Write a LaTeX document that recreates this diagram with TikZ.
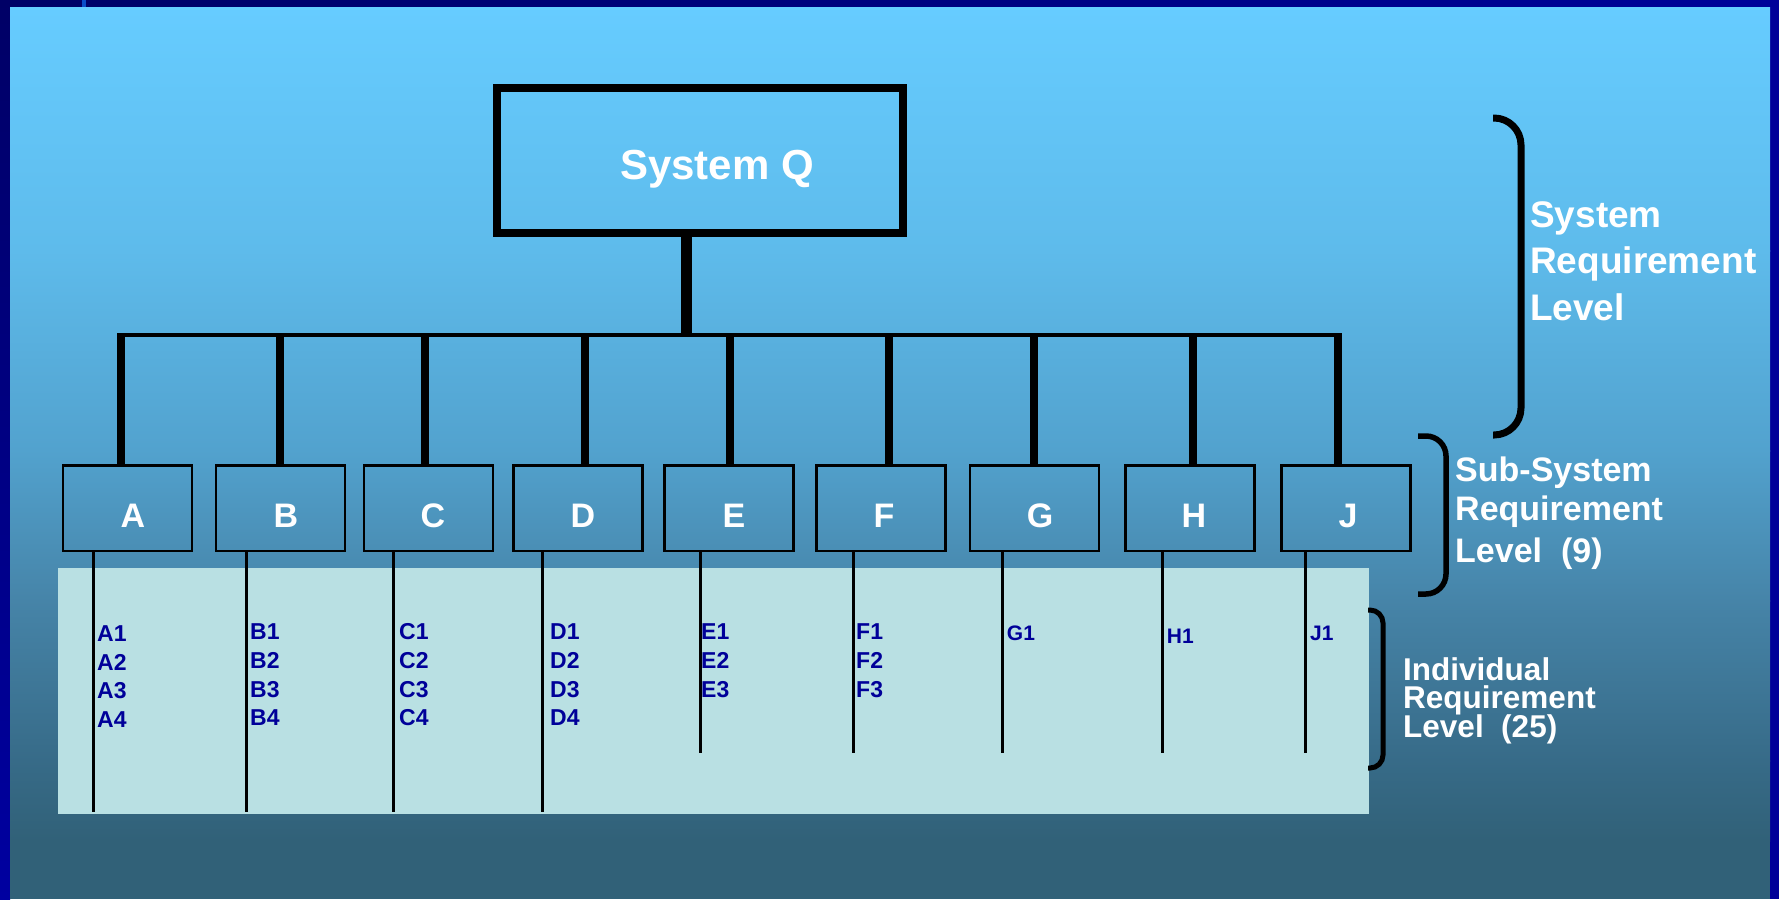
\documentclass[tikz,border=0pt]{standalone}
\usepackage{fontspec}
\setmainfont{Liberation Sans}
\usetikzlibrary{calc}

% palette
\definecolor{frameDark}{RGB}{0,0,102}
\definecolor{frameBlue}{RGB}{0,0,153}
\definecolor{frameLow}{RGB}{0,0,160}
\definecolor{tickBlue}{RGB}{10,76,200}
\definecolor{bg0}{HTML}{66CCFF}
\definecolor{bg1}{HTML}{5EBBEB}
\definecolor{bg2}{HTML}{52A2CE}
\definecolor{bg3}{HTML}{4684A8}
\definecolor{bg4}{HTML}{376B88}
\definecolor{bg5}{HTML}{316178}
\definecolor{panelCol}{RGB}{185,224,227}
\definecolor{itemBlue}{RGB}{0,0,153}

\begin{document}
\begin{tikzpicture}[x=1pt,y=-1pt,
  qbox/.style={draw=black, line width=8pt, minimum width=406pt, minimum height=145pt, inner sep=0pt},
  subbox/.style={draw=black, line width=2.5pt, minimum width=129pt, minimum height=85.5pt, inner sep=0pt},
  qtext/.style={text=white, font=\bfseries\fontsize{42}{42}\selectfont, anchor=base, inner sep=0pt},
  boxtext/.style={text=white, font=\bfseries\fontsize{34}{34}\selectfont, anchor=base, inner sep=0pt},
  item/.style={text=itemBlue, font=\bfseries\fontsize{23}{23}\selectfont, anchor=base west, inner sep=0pt},
  itemsmall/.style={text=itemBlue, font=\bfseries\fontsize{21}{21}\selectfont, anchor=base west, inner sep=0pt},
  levelsys/.style={text=white, font=\bfseries\fontsize{37}{37}\selectfont, anchor=base west, inner sep=0pt},
  levelsub/.style={text=white, font=\bfseries\fontsize{34}{34}\selectfont, anchor=base west, inner sep=0pt},
  levelind/.style={text=white, font=\bfseries\fontsize{31.5}{31.5}\selectfont, anchor=base west, inner sep=0pt},
  trunk/.style={line width=10.7pt},
  busbar/.style={line width=4.5pt},
  drop/.style={line width=8pt},
  leg/.style={line width=3pt},
  bracket/.style={draw=black}
]
\useasboundingbox (0,0) rectangle (1779,899);

% frame
\shade[left color=frameDark, right color=frameBlue] (0,0) rectangle (1779,8);
\shade[top color=frameDark, bottom color=frameLow] (0,0) rectangle (10,899);
\fill[frameBlue] (1770,0) rectangle (1779,899);
\fill[tickBlue] (82,0) rectangle (86,8);

% background, piecewise vertical gradient
\shade[top color=bg0, bottom color=bg1] (10,8) rectangle (1770,251);
\shade[top color=bg1, bottom color=bg2] (10,250) rectangle (1770,451);
\shade[top color=bg2, bottom color=bg3] (10,450) rectangle (1770,601);
\shade[top color=bg3, bottom color=bg4] (10,600) rectangle (1770,761);
\shade[top color=bg4, bottom color=bg5] (10,760) rectangle (1770,841);
\fill[bg5] (10,840) rectangle (1770,899);

% individual requirement panel
\fill[panelCol] (58,568) rectangle (1369,814);

% system box
\node[qbox] (Q) at (700,160.5) {};
\node[qtext] (Qt) at (717,179) {System Q};

% sub-system boxes
\foreach \n/\cx/\tx in {A/127.5/133, B/280.5/286, C/428.5/433, D/578/583, E/729/734, F/881/884, G/1034.5/1040, H/1190/1194, J/1346/1348}{
  \node[subbox] (\n) at (\cx,508) {};
  \node[boxtext] (\n t) at (\tx,527) {\n};
}

% trunk and bus bar
\coordinate (jT) at (686.5,335);
\draw[trunk] (Q.south -| jT) -- (jT);
\coordinate (barL) at (117,335);
\coordinate (barR) at (1342,335);
\draw[busbar] (barL) -- (barR);

% drops to each sub-system box
\foreach \n/\dx in {A/121, B/280, C/425, D/584.5, E/730, F/889, G/1034, H/1193, J/1338}{
  \coordinate (d\n) at (\dx,335);
  \draw[drop] (d\n) -- (d\n |- \n.north);
}

% legs below each sub-system box
\foreach \n/\lx/\ly in {A/93.6/812, B/246/812, C/393/812, D/542/812, E/700/753, F/853.6/753, G/1002/753, H/1162.7/753, J/1305.5/753}{
  \coordinate (l\n) at (\lx,\ly);
  \draw[leg] (l\n |- \n.south) -- (l\n);
}

% individual requirements
\foreach \k/\y in {1/641.7, 2/670.3, 3/698.9, 4/727.5}{
  \node[item] (A\k) at (97,\y) {A\k};
}
\foreach \k/\y in {1/639, 2/668, 3/697, 4/725.8}{
  \node[item] (B\k) at (250,\y) {B\k};
  \node[item] (C\k) at (399,\y) {C\k};
  \node[item] (D\k) at (550,\y) {D\k};
}
\foreach \k/\y in {1/639.3, 2/668, 3/697}{
  \node[item] (E\k) at (701,\y) {E\k};
  \node[item] (F\k) at (856,\y) {F\k};
}
\node[itemsmall] (G1) at (1006.7,640) {G1};
\node[itemsmall] (H1) at (1166.7,643) {H1};
\node[itemsmall] (J1) at (1310,640) {J1};

% level brackets
\draw[bracket, line width=7pt, rounded corners=27pt] (1493,118) -- (1521,118) -- (1521,435) -- (1493,435);
\draw[bracket, line width=5.5pt, rounded corners=20pt] (1418,436) -- (1446,436) -- (1446,594) -- (1418,594);
\draw[bracket, line width=5pt, rounded corners=13pt] (1368,610) -- (1383,610) -- (1383,768) -- (1368,768);

% level captions
\node[levelsys] (ls1) at (1530,227) {System};
\node[levelsys] (ls2) at (1530,273) {Requirement};
\node[levelsys] (ls3) at (1530,320) {Level};

\node[levelsub] (lb1) at (1455,481) {Sub-System};
\node[levelsub] (lb2) at (1455,520) {Requirement};
\node[levelsub] (lb3) at (1455,562) {Level~~(9)};

\node[levelind] (li1) at (1403,680) {Individual};
\node[levelind] (li2) at (1403,708) {Requirement};
\node[levelind] (li3) at (1403,737) {Level~~(25)};
\end{tikzpicture}
\end{document}
